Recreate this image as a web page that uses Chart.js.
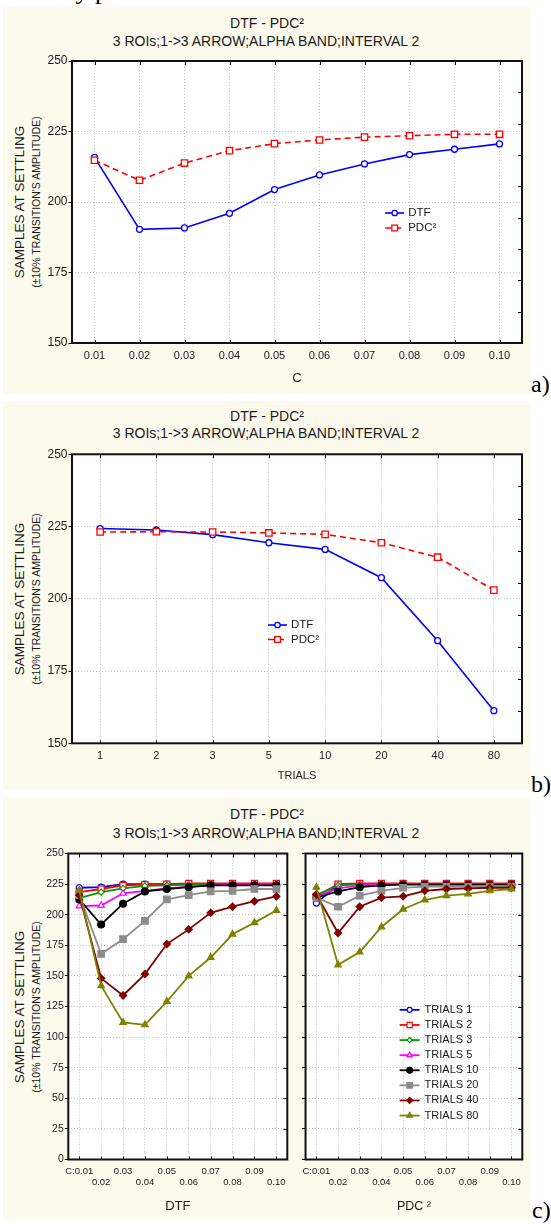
<!DOCTYPE html>
<html><head><meta charset="utf-8">
<script src="https://cdn.jsdelivr.net/npm/chart.js@4.4.0/dist/chart.umd.min.js"></script>
<style>
html,body{margin:0;padding:0;background:#fff;}
body{width:551px;height:1224px;position:relative;overflow:hidden;font-family:"Liberation Sans",Arial,Helvetica,sans-serif;color:#1a1a1a;}
.panel{position:absolute;background:#fcfaed;}
.ttl{position:absolute;white-space:nowrap;font-size:14px;line-height:1;transform:translate(-50%,-50%);}
.yt{position:absolute;white-space:nowrap;line-height:1;transform:translate(-50%,-50%) rotate(-90deg);}
.yt1{font-size:13.5px;}
.yt2{font-size:10.5px;}
.lab{position:absolute;font-family:"Liberation Serif","Times New Roman",serif;font-size:24px;line-height:1;color:#000;}
.top{position:absolute;left:-1px;top:-22px;font-family:"Liberation Serif","Times New Roman",serif;font-size:26px;line-height:1;color:#000;white-space:nowrap;}
canvas{position:absolute;}
</style></head><body>
<div class="top">intensity pattern.</div>

<div class="panel" style="left:3px;top:7px;width:528px;height:387px"></div>
<div class="panel" style="left:3px;top:401px;width:528px;height:389px"></div>
<div class="panel" style="left:3px;top:797px;width:528px;height:422px"></div>

<div class="ttl" style="left:267px;top:23px">DTF - PDC²</div>
<div class="ttl" style="left:266px;top:41px">3 ROIs;1-&gt;3 ARROW;ALPHA BAND;INTERVAL 2</div>
<div class="yt yt1" style="left:20px;top:202px">SAMPLES AT SETTLING</div>
<div class="yt yt2" style="left:36px;top:202px">(±10% TRANSITION'S AMPLITUDE)</div>
<div class="lab" style="left:531px;top:372px">a)</div>

<div class="ttl" style="left:267px;top:416px">DTF - PDC²</div>
<div class="ttl" style="left:266px;top:433px">3 ROIs;1-&gt;3 ARROW;ALPHA BAND;INTERVAL 2</div>
<div class="yt yt1" style="left:20px;top:599px">SAMPLES AT SETTLING</div>
<div class="yt yt2" style="left:36px;top:599px">(±10% TRANSITION'S AMPLITUDE)</div>
<div class="lab" style="left:531px;top:772px">b)</div>

<div class="ttl" style="left:267px;top:814px">DTF - PDC²</div>
<div class="ttl" style="left:266px;top:833px">3 ROIs;1-&gt;3 ARROW;ALPHA BAND;INTERVAL 2</div>
<div class="yt yt1" style="left:20px;top:1007px">SAMPLES AT SETTLING</div>
<div class="yt yt2" style="left:36px;top:1007px">(±10% TRANSITION'S AMPLITUDE)</div>
<div class="lab" style="left:532px;top:1198px">c)</div>

<canvas id="ca" width="529" height="344" style="left:3px;top:50px"></canvas>
<canvas id="cb" width="529" height="346" style="left:3px;top:444px"></canvas>
<canvas id="ccl" width="292" height="376" style="left:3px;top:843px"></canvas>
<canvas id="ccr" width="237" height="376" style="left:295px;top:843px"></canvas>

<script>
// ---------- data ----------
const cCategories = ['0.01','0.02','0.03','0.04','0.05','0.06','0.07','0.08','0.09','0.10'];
const trialCategories = ['1','2','3','5','10','20','40','80'];
const yTicksAB = [150, 175, 200, 225, 250];
const yTicksC = [0, 25, 50, 75, 100, 125, 150, 175, 200, 225, 250];

const dtfByC = [215.8, 190.3, 190.8, 196.0, 204.4, 209.6, 213.5, 216.8, 218.7, 220.6];
const pdcByC = [214.8, 207.7, 213.8, 218.2, 220.7, 222.0, 223.0, 223.5, 224.0, 224.0];

const dtfByTrials = [224.3, 223.8, 222.2, 219.4, 217.1, 207.3, 185.5, 161.3];
const pdcByTrials = [223.1, 223.2, 223.1, 222.8, 222.3, 219.4, 214.4, 203.0];

const trialSeriesNames = ['TRIALS 1','TRIALS 2','TRIALS 3','TRIALS 5','TRIALS 10','TRIALS 20','TRIALS 40','TRIALS 80'];

const dtfTrials1  = [222.0, 222.5, 225.0, 225.0, 225.0, 225.0, 225.0, 225.0, 225.0, 225.0];
const dtfTrials2  = [218.5, 221.0, 224.0, 224.5, 225.0, 225.5, 225.5, 225.5, 225.5, 225.5];
const dtfTrials3  = [213.5, 218.5, 221.5, 223.5, 224.0, 224.5, 225.0, 225.0, 225.0, 225.0];
const dtfTrials5  = [207.0, 207.5, 217.5, 219.5, 221.5, 223.0, 224.0, 224.5, 224.5, 224.5];
const dtfTrials10 = [212.5, 192.0, 209.0, 219.0, 221.0, 222.5, 224.0, 224.0, 224.0, 224.0];
const dtfTrials20 = [216.0, 168.0, 180.0, 195.0, 212.5, 216.0, 219.0, 219.5, 221.0, 221.0];
const dtfTrials40 = [216.0, 148.0, 134.0, 151.5, 176.0, 188.0, 201.5, 206.5, 211.0, 215.0];
const dtfTrials80 = [220.0, 142.0, 112.0, 110.0, 129.0, 150.0, 165.0, 184.0, 193.5, 203.5];

const pdcTrials1  = [209.5, 224.5, 225.0, 225.0, 225.0, 225.0, 225.0, 225.0, 225.0, 225.0];
const pdcTrials2  = [215.0, 225.0, 225.5, 225.5, 225.5, 225.5, 225.5, 225.5, 225.5, 225.5];
const pdcTrials3  = [216.0, 224.0, 225.0, 225.0, 225.0, 225.0, 225.0, 225.0, 225.0, 225.0];
const pdcTrials5  = [215.0, 221.5, 224.0, 224.5, 225.0, 225.0, 225.0, 225.0, 225.0, 225.0];
const pdcTrials10 = [214.0, 219.0, 222.5, 224.0, 224.5, 224.5, 224.5, 224.5, 224.5, 224.5];
const pdcTrials20 = [214.0, 206.5, 215.5, 219.5, 222.0, 223.0, 223.0, 223.0, 223.0, 223.0];
const pdcTrials40 = [216.5, 185.0, 206.5, 214.0, 215.0, 219.5, 221.0, 221.5, 222.0, 222.0];
const pdcTrials80 = [222.5, 159.0, 169.5, 190.0, 204.5, 212.0, 215.5, 217.0, 219.5, 221.0];

const dtfTrialSeries = [dtfTrials1, dtfTrials2, dtfTrials3, dtfTrials5, dtfTrials10, dtfTrials20, dtfTrials40, dtfTrials80];
const pdcTrialSeries = [pdcTrials1, pdcTrials2, pdcTrials3, pdcTrials5, pdcTrials10, pdcTrials20, pdcTrials40, pdcTrials80];

// ---------- styles ----------
const trialStyles = [
  {color:'#0000ff', point:'circle',   r:3.0, fill:'#ffffff'},
  {color:'#ff0000', point:'rect',     r:4.3, fill:'#ffffff'},
  {color:'#009a00', point:'rectRot',  r:3.0, fill:'#ffffff'},
  {color:'#ff00ff', point:'triangle', r:3.6, fill:'#ffffff'},
  {color:'#000000', point:'circle',   r:3.4, fill:'#000000'},
  {color:'#8c8c8c', point:'rect',     r:4.6, fill:'#8c8c8c'},
  {color:'#800000', point:'rectRot',  r:3.6, fill:'#800000'},
  {color:'#808000', point:'triangle', r:3.8, fill:'#808000'}
];

Chart.defaults.font.family = '"Liberation Sans", Arial, Helvetica, sans-serif';
Chart.defaults.color = '#1a1a1a';

function drawMarker(ctx, style, r, x, y, fill, stroke, lw) {
  ctx.save();
  ctx.beginPath();
  ctx.lineWidth = lw; ctx.strokeStyle = stroke; ctx.fillStyle = fill; ctx.setLineDash([]);
  if (style === 'circle') { ctx.arc(x, y, r, 0, Math.PI * 2); }
  else if (style === 'rect') { const s = r * Math.SQRT1_2; ctx.rect(x - s, y - s, 2 * s, 2 * s); }
  else if (style === 'rectRot') { ctx.moveTo(x, y - r); ctx.lineTo(x + r, y); ctx.lineTo(x, y + r); ctx.lineTo(x - r, y); ctx.closePath(); }
  else if (style === 'triangle') {
    let a = 0;
    ctx.moveTo(x + Math.sin(a) * r, y - Math.cos(a) * r);
    a += 2 * Math.PI / 3; ctx.lineTo(x + Math.sin(a) * r, y - Math.cos(a) * r);
    a += 2 * Math.PI / 3; ctx.lineTo(x + Math.sin(a) * r, y - Math.cos(a) * r);
    ctx.closePath();
  }
  ctx.fill(); ctx.stroke();
  ctx.restore();
}

const framePlugin = {
  id: 'frame',
  beforeDraw(chart) {
    const {ctx, chartArea: a} = chart;
    ctx.save(); ctx.fillStyle = '#ffffff';
    ctx.fillRect(a.left, a.top, a.right - a.left, a.bottom - a.top);
    ctx.restore();
  },
  afterDatasetsDraw(chart, args, opts) {
    const {ctx, chartArea: a, scales} = chart;
    const x = scales.x, y = scales.y;
    ctx.save();
    ctx.strokeStyle = '#111'; ctx.lineWidth = 1; ctx.setLineDash([]);
    ctx.beginPath();
    x.ticks.forEach((t, i) => {
      const px = Math.round(x.getPixelForTick(i)) + 0.5;
      ctx.moveTo(px, a.top); ctx.lineTo(px, a.top + opts.topTick);
      ctx.moveTo(px, a.bottom); ctx.lineTo(px, a.bottom - opts.bottomTick);
    });
    const n = opts.rightDivisions;
    for (let k = 1; k < n; k++) {
      const v = y.min + (y.max - y.min) * k / n;
      const py = Math.round(y.getPixelForValue(v)) + 0.5;
      ctx.moveTo(a.right, py); ctx.lineTo(a.right - opts.rightTick, py);
    }
    ctx.stroke();
    ctx.lineWidth = 2; ctx.strokeStyle = '#111';
    ctx.strokeRect(a.left, a.top, a.right - a.left, a.bottom - a.top);
    ctx.restore();
  }
};

const legendPlugin = {
  id: 'innerLegend',
  afterDraw(chart, args, opts) {
    if (!opts || !opts.show) return;
    const {ctx, chartArea: a} = chart;
    const x0 = a.left + (a.right - a.left) * opts.fx;
    const y0 = a.top + (a.bottom - a.top) * opts.fy;
    ctx.save();
    ctx.font = opts.font; ctx.textBaseline = 'middle'; ctx.textAlign = 'left';
    chart.data.datasets.forEach((ds, i) => {
      const yy = y0 + i * opts.rowH;
      ctx.strokeStyle = ds.borderColor; ctx.lineWidth = ds.borderWidth;
      ctx.setLineDash(ds.borderDash || []);
      ctx.beginPath(); ctx.moveTo(x0, yy); ctx.lineTo(x0 + opts.lineLen, yy); ctx.stroke();
      ctx.setLineDash([]);
      drawMarker(ctx, ds.pointStyle, ds.pointRadius * opts.markerScale, x0 + opts.lineLen / 2, yy,
                 ds.pointBackgroundColor, ds.pointBorderColor, ds.pointBorderWidth);
      ctx.fillStyle = '#1a1a1a';
      ctx.fillText(ds.label, x0 + opts.lineLen + opts.gap, yy);
    });
    ctx.restore();
  }
};

function yScale(ticksArr, width, fontSize, showLabels) {
  return {
    type: 'linear', position: 'left',
    min: ticksArr[0], max: ticksArr[ticksArr.length - 1],
    afterBuildTicks: s => { s.ticks = ticksArr.map(v => ({value: v})); },
    afterFit: s => { s.width = width; },
    ticks: {display: showLabels, padding: 1, font: {size: fontSize}, color: '#1a1a1a'},
    grid: {color: '#c4c4c4', lineWidth: 1, drawTicks: true, tickLength: 3.5, tickColor: '#111', tickWidth: 1, tickBorderDash: []},
    border: {display: false, dash: [1, 2]}
  };
}

function xScale(height, fontSize, lineH, tickPad, title, titleSize, titleBottom, staggered) {
  return {
    type: 'category', offset: true,
    afterFit: s => { s.height = height; },
    ticks: {
      autoSkip: false, maxRotation: 0, minRotation: 0, padding: tickPad,
      font: {size: fontSize, lineHeight: lineH}, color: '#1a1a1a',
      callback: function(value, index) {
        const lab = this.getLabelForValue(value);
        if (!staggered) return lab;
        if (index === 0) return 'C:' + lab;
        return index % 2 === 1 ? ['', lab] : lab;
      }
    },
    grid: {color: '#c4c4c4', lineWidth: 1, drawTicks: false, offset: false},
    border: {display: false, dash: [1, 2]},
    title: {display: true, text: title, font: {size: titleSize}, color: '#1a1a1a', padding: {top: 0, bottom: titleBottom}}
  };
}

function twoSeries(labels, dtf, pdc) {
  return {
    labels: labels,
    datasets: [
      {label: 'DTF', data: dtf, borderColor: '#0000ff', borderWidth: 1.6, pointStyle: 'circle', pointRadius: 3,
       pointBackgroundColor: '#ffffff', pointBorderColor: '#0000ff', pointBorderWidth: 1.3, tension: 0, order: 1},
      {label: 'PDC²', data: pdc, borderColor: '#ff0000', borderWidth: 1.6, borderDash: [6, 4], pointStyle: 'rect', pointRadius: 4.5,
       pointBackgroundColor: '#ffffff', pointBorderColor: '#ff0000', pointBorderWidth: 1.3, tension: 0, order: 0}
    ]
  };
}

function trialData(series) {
  return {
    labels: cCategories,
    datasets: series.map((d, i) => ({
      label: trialSeriesNames[i], data: d,
      borderColor: trialStyles[i].color, borderWidth: 1.8,
      pointStyle: trialStyles[i].point, pointRadius: trialStyles[i].r,
      pointBackgroundColor: trialStyles[i].fill, pointBorderColor: trialStyles[i].color, pointBorderWidth: 1.2,
      tension: 0, order: series.length - 1 - i
    }))
  };
}

const baseOpts = {responsive: false, animation: false, devicePixelRatio: 1, events: []};

// a)
new Chart(document.getElementById('ca'), {
  type: 'line',
  data: twoSeries(cCategories, dtfByC, pdcByC),
  options: Object.assign({}, baseOpts, {
    layout: {padding: {top: 11, right: 10, left: 0, bottom: 0}},
    scales: {x: xScale(51, 11, 1.2, 6.4, 'C', 13, 8.2, false), y: yScale(yTicksAB, 69, 12, true)},
    plugins: {legend: {display: false}, tooltip: {enabled: false},
      frame: {topTick: 4, bottomTick: 3, rightTick: 4, rightDivisions: 9},
      innerLegend: {show: true, fx: 0.696, fy: 0.539, rowH: 15, lineLen: 19, gap: 4, font: '11.5px "Liberation Sans", Arial, sans-serif', markerScale: 0.9}}
  }),
  plugins: [framePlugin, legendPlugin]
});

// b)
new Chart(document.getElementById('cb'), {
  type: 'line',
  data: twoSeries(trialCategories, dtfByTrials, pdcByTrials),
  options: Object.assign({}, baseOpts, {
    layout: {padding: {top: 10.3, right: 10, left: 0, bottom: 0}},
    scales: {x: xScale(46.7, 11, 1.2, 5.8, 'TRIALS', 11, 7.4, false), y: yScale(yTicksAB, 69, 12, true)},
    plugins: {legend: {display: false}, tooltip: {enabled: false},
      frame: {topTick: 4, bottomTick: 3, rightTick: 4, rightDivisions: 9},
      innerLegend: {show: true, fx: 0.4356, fy: 0.5907, rowH: 14.5, lineLen: 19, gap: 4, font: '11.5px "Liberation Sans", Arial, sans-serif', markerScale: 0.9}}
  }),
  plugins: [framePlugin, legendPlugin]
});

// c) left (DTF)
new Chart(document.getElementById('ccl'), {
  type: 'line',
  data: trialData(dtfTrialSeries),
  options: Object.assign({}, baseOpts, {
    layout: {padding: {top: 10.5, right: 7.7, left: 0, bottom: 0}},
    scales: {x: xScale(59.5, 9.5, 1.1, 7.0, 'DTF', 13, 4.5, true), y: yScale(yTicksC, 65.3, 10.5, true)},
    plugins: {legend: {display: false}, tooltip: {enabled: false},
      frame: {topTick: 4, bottomTick: 3, rightTick: 4, rightDivisions: 10},
      innerLegend: {show: false}}
  }),
  plugins: [framePlugin, legendPlugin]
});

// c) right (PDC²)
new Chart(document.getElementById('ccr'), {
  type: 'line',
  data: trialData(pdcTrialSeries),
  options: Object.assign({}, baseOpts, {
    layout: {padding: {top: 10.5, right: 9.7, left: 0, bottom: 0}},
    scales: {x: xScale(59.5, 9.5, 1.1, 7.0, 'PDC ²', 12.5, 4.8, true), y: yScale(yTicksC, 7.7, 10.5, false)},
    plugins: {legend: {display: false}, tooltip: {enabled: false},
      frame: {topTick: 4, bottomTick: 3, rightTick: 4, rightDivisions: 10},
      innerLegend: {show: true, fx: 0.434, fy: 0.511, rowH: 15.1, lineLen: 20, gap: 5, font: '11px "Liberation Sans", Arial, sans-serif', markerScale: 0.85}}
  }),
  plugins: [framePlugin, legendPlugin]
});
</script>
</body></html>
